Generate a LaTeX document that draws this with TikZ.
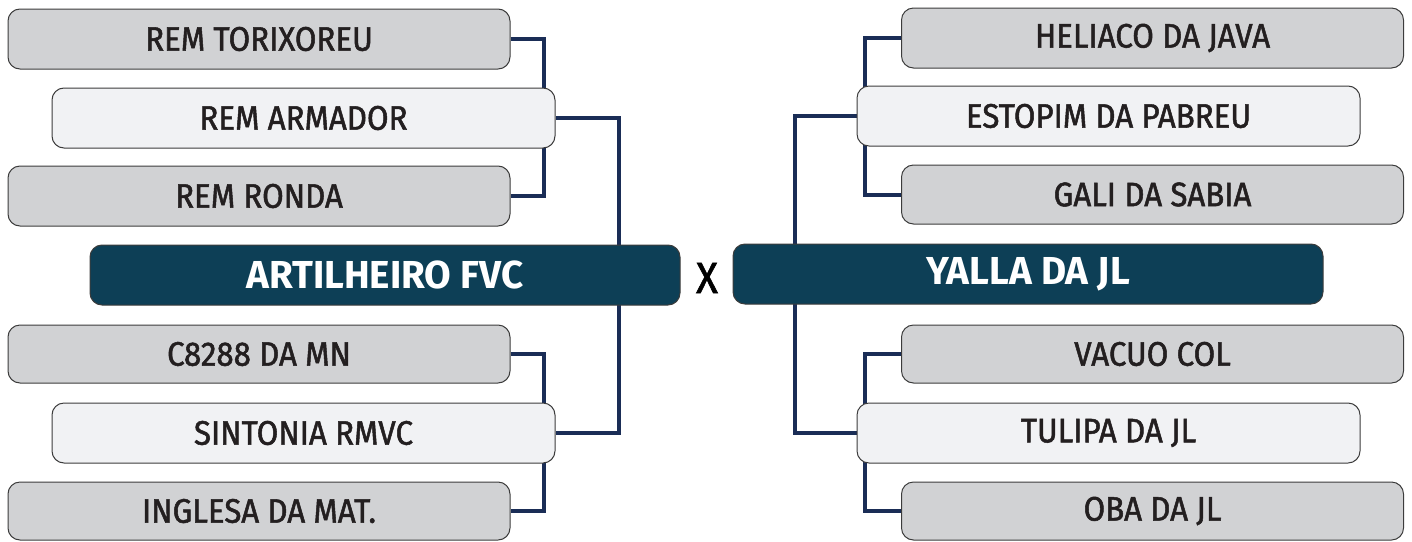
\documentclass[tikz,border=0pt]{standalone}
\usepackage{fontspec}
\setmainfont{Fira Sans}[FakeStretch=0.92, FakeBold=1.5]
\newfontfamily\teamfont{Fira Sans}[FakeStretch=0.99]
\usetikzlibrary{backgrounds}
\definecolor{grayfill}{RGB}{209,210,212}
\definecolor{lightfill}{RGB}{241,242,244}
\definecolor{teamfill}{RGB}{13,63,86}
\definecolor{conncol}{RGB}{26,45,86}
\definecolor{txtcol}{RGB}{35,31,32}
\definecolor{edgecol}{RGB}{60,60,60}
\tikzset{
  box/.style={draw=edgecol, line width=1pt, rounded corners=12pt, minimum width=502pt, minimum height=60pt, inner sep=0pt, text=txtcol, font=\fontsize{34}{34}\selectfont},
  outbox/.style={box, fill=grayfill},
  inbox/.style={box, fill=lightfill, minimum width=503pt},
  teambox/.style={draw=edgecol, line width=1pt, rounded corners=12pt, fill=teamfill, minimum width=590pt, minimum height=60pt, inner sep=0pt, text=white, font=\teamfont\fontsize{39}{39}\selectfont\bfseries},
  conn/.style={draw=conncol, line width=4pt},
  vs/.style={font=\fontsize{44}{44}\selectfont, text=black, inner sep=0pt}
}
\begin{document}
\begin{tikzpicture}[x=1pt,y=-1pt]
\useasboundingbox (0,0) rectangle (1412,541);
% left side
\node[outbox] (l1) at (259,39) {REM TORIXOREU};
\node[inbox]  (l2) at (303.5,118) {REM ARMADOR};
\node[outbox] (l3) at (259,196) {REM RONDA};
\node[teambox] (lt) at (385,275) {ARTILHEIRO FVC};
\node[outbox, minimum height=58pt] (l4) at (259,354) {C8288 DA MN};
\node[inbox]  (l5) at (303.5,433) {SINTONIA RMVC};
\node[outbox, minimum height=58pt] (l6) at (259,511) {INGLESA DA MAT.};
% right side
\node[outbox] (r1) at (1152.5,38) {HELIACO DA JAVA};
\node[inbox]  (r2) at (1108.5,116) {ESTOPIM DA PABREU};
\node[outbox, minimum height=59pt] (r3) at (1152.5,194.5) {GALI DA SABIA};
\node[teambox] (rt) at (1028,274) {YALLA DA JL};
\node[outbox, minimum height=58pt] (r4) at (1152.5,354) {VACUO COL};
\node[inbox]  (r5) at (1108.5,433) {TULIPA DA JL};
\node[outbox, minimum height=58pt] (r6) at (1152.5,511) {OBA DA JL};
\node[vs] (x) at (707,278) {X};
\begin{scope}[on background layer]
\draw[conn] (l1.east) -- ++(33,0) |- (l3.east);
\draw[conn] (l4.east) -- ++(33,0) |- (l6.east);
\draw[conn] (l2.east) -- ++(63,0) |- (l5.east);
\draw[conn] (r1.west) -- ++(-36,0) |- (r3.west);
\draw[conn] (r4.west) -- ++(-36,0) |- (r6.west);
\draw[conn] (r2.west) -- ++(-62,0) |- (r5.west);
\end{scope}
\end{tikzpicture}
\end{document}
